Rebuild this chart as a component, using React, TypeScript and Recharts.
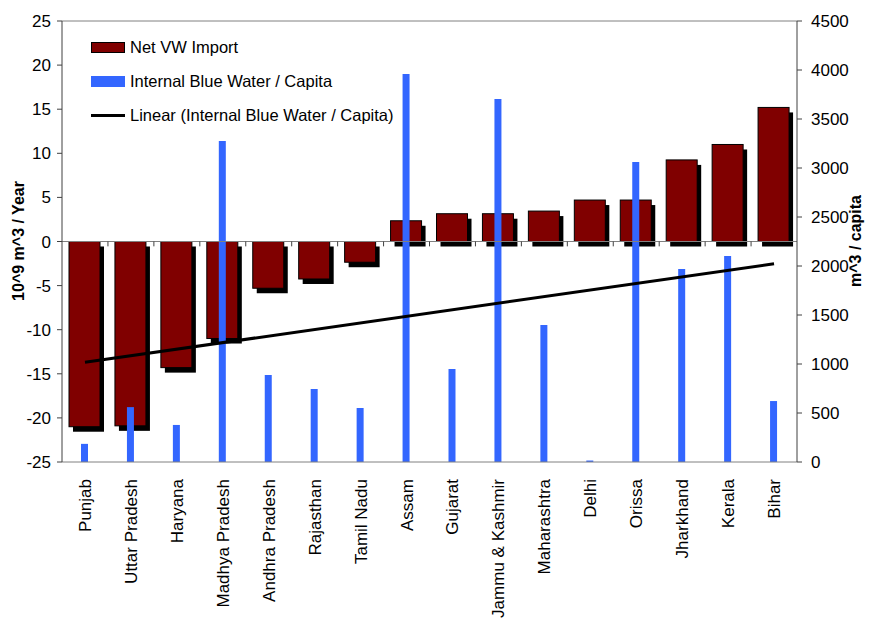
import {
  Bar,
  ComposedChart,
  Line,
  ReferenceLine,
  XAxis,
  YAxis
} from "recharts";

const states = [
  "Punjab",
  "Uttar Pradesh",
  "Haryana",
  "Madhya Pradesh",
  "Andhra Pradesh",
  "Rajasthan",
  "Tamil Nadu",
  "Assam",
  "Gujarat",
  "Jammu & Kashmir",
  "Maharashtra",
  "Delhi",
  "Orissa",
  "Jharkhand",
  "Kerala",
  "Bihar"
];

// 10^9 m^3 / year
const netImport = [-21.0, -20.9, -14.3, -11.0, -5.3, -4.25, -2.35, 2.35, 3.15, 3.15, 3.45, 4.7, 4.7, 9.25, 11.0, 15.2];

// m^3 / capita
const blueWater = [185, 560, 378, 3276, 888, 745, 551, 3960, 949, 3704, 1398, 15, 3061, 1969, 2102, 622];

// linear trend end points
const trendEnds = [1017, 2023];

const leftTicks = [-25, -20, -15, -10, -5, 0, 5, 10, 15, 20, 25];
const rightTicks = [0, 500, 1000, 1500, 2000, 2500, 3000, 3500, 4000, 4500];

const data = states.map((name, i) => ({
  name,
  net: netImport[i],
  blue: blueWater[i],
  trend: i === 0 ? trendEnds[0] : i === states.length - 1 ? trendEnds[1] : null
}));

const FONT = "'Liberation Sans', Arial, sans-serif";
const RED = "#800000";
const BLUE = "#3366FF";

function ShadowBar(props: any) {
  const { x, y, width, height } = props;
  const top = Math.min(y, y + height);
  const h = Math.abs(height);
  return (
    <g>
      <rect x={x + 4} y={top + 5} width={width} height={h} fill="#000" />
      <rect x={x} y={top} width={width} height={h} fill={RED} stroke="#000" strokeWidth={1} />
    </g>
  );
}

function StateTick(props: any) {
  const { x, y, payload } = props;
  return (
    <text
      x={x}
      y={y}
      transform={`rotate(-90, ${x}, ${y})`}
      textAnchor="end"
      dy={6}
      fontSize={17}
      fontFamily={FONT}
      fill="#000"
    >
      {payload.value}
    </text>
  );
}

function AxisTitle(props: any) {
  const { x, y, text } = props;
  return (
    <text
      x={x}
      y={y}
      transform={`rotate(-90, ${x}, ${y})`}
      textAnchor="middle"
      dy={6}
      fontSize={16}
      fontWeight="bold"
      fontFamily={FONT}
      fill="#000"
    >
      {text}
    </text>
  );
}

function LegendBox() {
  const row = { display: "flex", alignItems: "center", height: 34 } as const;
  const label = { marginLeft: 5, fontSize: 16.5, fontFamily: FONT, color: "#000" };
  return (
    <div style={{ position: "absolute", left: 91, top: 30 }}>
      <div style={row}>
        <div style={{ width: 32, height: 9, background: RED, border: "1px solid #000" }} />
        <span style={label}>Net VW Import</span>
      </div>
      <div style={row}>
        <div style={{ width: 34, height: 11, background: BLUE }} />
        <span style={label}>Internal Blue Water / Capita</span>
      </div>
      <div style={row}>
        <div style={{ width: 34, height: 3, background: "#000" }} />
        <span style={label}>Linear (Internal Blue Water / Capita)</span>
      </div>
    </div>
  );
}

const boundaryTicks = states.slice(1);

export default function App() {
  return (
    <div style={{ position: "absolute", left: 0, top: 0, width: 873, height: 619, background: "#fff" }}>
      <ComposedChart
        width={873}
        height={619}
        data={data}
        margin={{ top: 21, right: 20, left: 8, bottom: 0 }}
      >
        <XAxis
          xAxisId="a"
          dataKey="name"
          height={157}
          interval={0}
          tick={<StateTick />}
          tickLine={false}
          axisLine={{ stroke: "#808080" }}
          tickMargin={11}
        />
        <XAxis xAxisId="b" dataKey="name" hide />
        <YAxis
          yAxisId="left"
          width={54}
          domain={[-25, 25]}
          ticks={leftTicks}
          interval={0}
          tickSize={5}
          tickMargin={6}
          axisLine={{ stroke: "#404040" }}
          tickLine={{ stroke: "#404040" }}
          tick={{ fontSize: 17, fontFamily: FONT, fill: "#000" }}
          label={{ content: () => <AxisTitle x={18} y={241} text="10^9 m^3 / Year" /> }}
        />
        <YAxis
          yAxisId="right"
          orientation="right"
          width={56}
          domain={[0, 4500]}
          ticks={rightTicks}
          interval={0}
          tickSize={5}
          tickMargin={9}
          axisLine={{ stroke: "#404040" }}
          tickLine={{ stroke: "#404040" }}
          tick={{ fontSize: 17, fontFamily: FONT, fill: "#000", textAnchor: "start" }}
          label={{ content: () => <AxisTitle x={855} y={241} text="m^3 / capita" /> }}
        />
        <ReferenceLine yAxisId="left" xAxisId="a" y={25} stroke="#808080" />
        <ReferenceLine yAxisId="left" xAxisId="a" y={0} stroke="#808080" />
        {boundaryTicks.map((s) => (
          <ReferenceLine
            key={s}
            yAxisId="left"
            xAxisId="a"
            position="start"
            ifOverflow="visible"
            segment={[
              { x: s, y: 0 },
              { x: s, y: -0.55 }
            ]}
            stroke="#404040"
          />
        ))}
        <Bar
          xAxisId="a"
          yAxisId="left"
          dataKey="net"
          name="Net VW Import"
          barSize={31}
          shape={<ShadowBar />}
          isAnimationActive={false}
        />
        <Bar
          xAxisId="b"
          yAxisId="right"
          dataKey="blue"
          name="Internal Blue Water / Capita"
          barSize={7}
          fill={BLUE}
          isAnimationActive={false}
        />
        <Line
          xAxisId="b"
          yAxisId="right"
          dataKey="trend"
          name="Linear (Internal Blue Water / Capita)"
          stroke="#000"
          strokeWidth={3}
          dot={false}
          connectNulls
          isAnimationActive={false}
        />
      </ComposedChart>
      <LegendBox />
    </div>
  );
}
